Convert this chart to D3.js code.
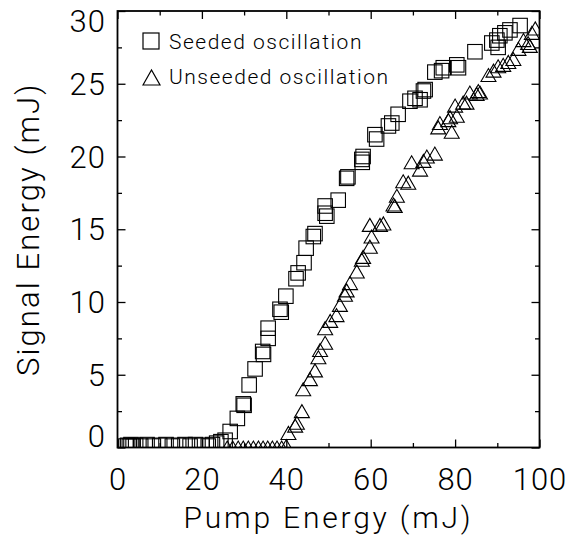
<!DOCTYPE html>
<html>
<head>
<meta charset="utf-8">
<script src="https://cdn.jsdelivr.net/npm/d3@7"></script>
<style>
  body { margin: 0; background: #fff; }
  svg { display: block; }
  text { font-family: "Roboto", "Liberation Sans", sans-serif; font-weight: 300; fill: #000; }
</style>
</head>
<body>
<svg id="chart" width="569" height="542"></svg>
<script>
// ---- data ----
const xMajorTicks = [0, 20, 40, 60, 80, 100];
const xMinorTicks = [10, 30, 50, 70, 90];
const yMajorTicks = [0, 5, 10, 15, 20, 25, 30];
const yMinorTicks = [2.5, 7.5, 12.5, 17.5, 22.5, 27.5];

const seededPump = [
  2.0, 2.4, 2.8, 3.2, 3.7, 4.3, 5.5, 7.0, 8.5, 10.0, 11.5, 13.0, 14.5, 16.0, 17.2,
  18.5, 20.0, 21.5, 22.5, 23.5, 24.5, 25.5,
  26.7, 28.4, 29.8, 30.0, 31.2, 32.6, 34.4, 34.6, 35.7, 35.7, 38.5, 38.8, 39.9,
  42.3, 42.8, 44.2, 44.7, 46.4, 46.8, 49.2, 49.2, 49.6, 52.3, 54.3, 54.6,
  57.9, 58.2, 58.0, 61.4, 61.0, 64.2, 65.0, 66.5, 69.3, 70.5, 71.7, 72.5, 72.9,
  75.2, 76.8, 77.2, 80.4, 80.8, 84.7, 88.7, 89.9, 90.2, 90.6, 91.8, 93.0, 95.4
];
const seededSignal = [
  0.1, 0.15, 0.1, 0.2, 0.1, 0.15, 0.1, 0.2, 0.1, 0.15, 0.2, 0.1, 0.15, 0.2, 0.1,
  0.2, 0.15, 0.1, 0.2, 0.3, 0.4, 0.5,
  1.1, 2.0, 3.0, 2.9, 4.3, 5.4, 6.6, 6.4, 7.5, 8.2, 9.5, 9.3, 10.4,
  11.6, 12.0, 12.7, 13.7, 14.5, 14.7, 16.1, 16.6, 15.9, 17.0, 18.5, 18.6,
  19.8, 20.0, 19.6, 21.2, 21.5, 22.1, 22.3, 22.9, 23.8, 24.0, 23.9, 24.5, 24.6,
  25.8, 25.9, 26.1, 26.3, 26.1, 27.2, 27.8, 28.0, 27.5, 28.3, 28.5, 28.7, 29.0
];

const unseededPump = [
  26.0, 27.3, 28.6, 29.8, 31.0, 32.2, 33.4, 34.5, 35.6, 36.7, 37.8, 38.9, 40.0,
  40.5, 42.1, 42.5, 43.7, 44.0, 45.6, 46.8, 47.6, 48.0, 49.2, 49.2, 50.4, 51.9,
  52.7, 53.9, 54.3, 55.1, 56.7, 57.9, 58.2, 59.8, 60.2, 59.8, 62.2, 63.0,
  65.4, 65.7, 66.2, 67.7, 68.9, 69.7, 71.7, 72.5, 73.3, 75.2,
  76.0, 76.4, 78.4, 78.8, 79.2, 80.0, 80.4, 81.9, 82.7, 83.5, 85.1, 85.5, 85.9,
  87.9, 89.1, 90.2, 91.4, 92.6, 93.8, 95.0, 96.2, 97.3, 97.7, 98.2, 99.0
];
const unseededSignal = [
  0.0, 0.0, 0.0, 0.0, 0.0, 0.0, 0.0, 0.0, 0.0, 0.0, 0.0, 0.0, 0.1,
  1.0, 1.5, 1.7, 2.5, 4.0, 4.7, 5.3, 6.2, 6.7, 7.2, 8.2, 8.7, 9.1,
  9.8, 10.5, 10.8, 11.3, 12.1, 12.9, 13.1, 13.8, 14.5, 15.3, 15.3, 15.4,
  16.7, 16.6, 17.3, 18.3, 18.2, 19.6, 19.1, 19.7, 20.0, 20.2,
  22.0, 22.3, 22.5, 22.7, 21.7, 23.5, 22.8, 23.7, 23.7, 24.4, 24.3, 24.5, 24.4,
  25.6, 25.9, 26.2, 26.3, 26.5, 26.7, 27.4, 28.0, 27.8, 27.6, 28.5, 28.8
];

// ---- layout ----
const svg = d3.select("#chart");
const W = 569, H = 542;
const plot = { left: 117.5, right: 539.5, top: 11, bottom: 447.5 };

svg.append("rect").attr("width", W).attr("height", H).attr("fill", "#fff");

const x = d3.scaleLinear().domain([0, 100]).range([plot.left, plot.right]);
const y = d3.scaleLinear().domain([0, 30]).range([plot.bottom, plot.top]);

svg.append("defs").append("clipPath").attr("id", "clip")
  .append("rect")
  .attr("x", plot.left).attr("y", plot.top)
  .attr("width", plot.right - plot.left).attr("height", plot.bottom - plot.top);

// axes: ticks point inward on all four sides
function styleAxis(g){
  g.select(".domain").remove();
  g.selectAll(".tick line").attr("stroke", "#000").attr("stroke-width", 1.3);
}

svg.append("g").attr("transform", `translate(0,${plot.bottom})`)
  .call(d3.axisBottom(x).tickValues(xMajorTicks).tickSizeInner(-8).tickSizeOuter(0).tickPadding(20.5).tickFormat(d3.format("d")))
  .call(styleAxis)
  .call(g => g.selectAll("text").attr("font-size", 31).attr("font-family", null).attr("letter-spacing", 1));

svg.append("g").attr("transform", `translate(0,${plot.bottom})`)
  .call(d3.axisBottom(x).tickValues(xMinorTicks).tickSizeInner(-4.5).tickSizeOuter(0).tickFormat(""))
  .call(styleAxis);

svg.append("g").attr("transform", `translate(0,${plot.top})`)
  .call(d3.axisTop(x).tickValues(xMajorTicks).tickSizeInner(-8).tickSizeOuter(0).tickFormat(""))
  .call(styleAxis);
svg.append("g").attr("transform", `translate(0,${plot.top})`)
  .call(d3.axisTop(x).tickValues(xMinorTicks).tickSizeInner(-4.5).tickSizeOuter(0).tickFormat(""))
  .call(styleAxis);

// end labels 0 and 30 are nudged inside the axis span, as in the figure
svg.append("g").attr("transform", `translate(${plot.left},0)`)
  .call(d3.axisLeft(y).tickValues(yMajorTicks).tickSizeInner(-8).tickSizeOuter(0).tickPadding(11.5).tickFormat(d3.format("d")))
  .call(styleAxis)
  .call(g => g.selectAll("text").attr("font-size", 31).attr("font-family", null).attr("letter-spacing", 1)
    .attr("dy", d => d === 0 ? "-0.02em" : d === 30 ? "0.66em" : "0.34em"));

svg.append("g").attr("transform", `translate(${plot.left},0)`)
  .call(d3.axisLeft(y).tickValues(yMinorTicks).tickSizeInner(-4.5).tickSizeOuter(0).tickFormat(""))
  .call(styleAxis);

svg.append("g").attr("transform", `translate(${plot.right},0)`)
  .call(d3.axisRight(y).tickValues(yMajorTicks).tickSizeInner(-8).tickSizeOuter(0).tickFormat(""))
  .call(styleAxis);
svg.append("g").attr("transform", `translate(${plot.right},0)`)
  .call(d3.axisRight(y).tickValues(yMinorTicks).tickSizeInner(-4.5).tickSizeOuter(0).tickFormat(""))
  .call(styleAxis);

// data marks
const marks = svg.append("g").attr("clip-path", "url(#clip)");
const sq = 14.5;
const triPath = "M-7.5,6.5L0,-6.5L7.5,6.5Z";

marks.append("g").selectAll("rect")
  .data(d3.zip(seededPump, seededSignal))
  .join("rect")
  .attr("x", d => x(d[0]) - sq / 2)
  .attr("y", d => y(d[1]) - sq / 2)
  .attr("width", sq).attr("height", sq)
  .attr("fill", "none").attr("stroke", "#000").attr("stroke-width", 1.1);

marks.append("g").selectAll("path")
  .data(d3.zip(unseededPump, unseededSignal))
  .join("path")
  .attr("d", triPath)
  .attr("transform", d => `translate(${x(d[0])},${y(d[1])})`)
  .attr("fill", "none").attr("stroke", "#000").attr("stroke-width", 1.1);

// frame
svg.append("rect")
  .attr("x", plot.left).attr("y", plot.top)
  .attr("width", plot.right - plot.left).attr("height", plot.bottom - plot.top)
  .attr("fill", "none").attr("stroke", "#000").attr("stroke-width", 1.8);

// legend
const legend = svg.append("g");
legend.append("rect").attr("x", 143).attr("y", 33).attr("width", 16).attr("height", 16)
  .attr("fill", "none").attr("stroke", "#000").attr("stroke-width", 1.2);
legend.append("text").attr("x", 169).attr("y", 48.5).attr("font-size", 21)
  .attr("letter-spacing", 1.5).text("Seeded oscillation");
legend.append("path").attr("d", "M143,85L151.5,70L160,85Z")
  .attr("fill", "none").attr("stroke", "#000").attr("stroke-width", 1.2);
legend.append("text").attr("x", 169).attr("y", 84).attr("font-size", 21)
  .attr("letter-spacing", 1.5).text("Unseeded oscillation");

// axis titles
svg.append("text")
  .attr("x", (plot.left + plot.right) / 2).attr("y", 528)
  .attr("text-anchor", "middle").attr("font-size", 30).attr("letter-spacing", 2.8)
  .text("Pump Energy (mJ)");

svg.append("text")
  .attr("transform", `translate(39,${(plot.top + plot.bottom) / 2}) rotate(-90)`)
  .attr("text-anchor", "middle").attr("font-size", 31).attr("letter-spacing", 2.1)
  .text("Signal Energy (mJ)");
</script>
</body>
</html>
